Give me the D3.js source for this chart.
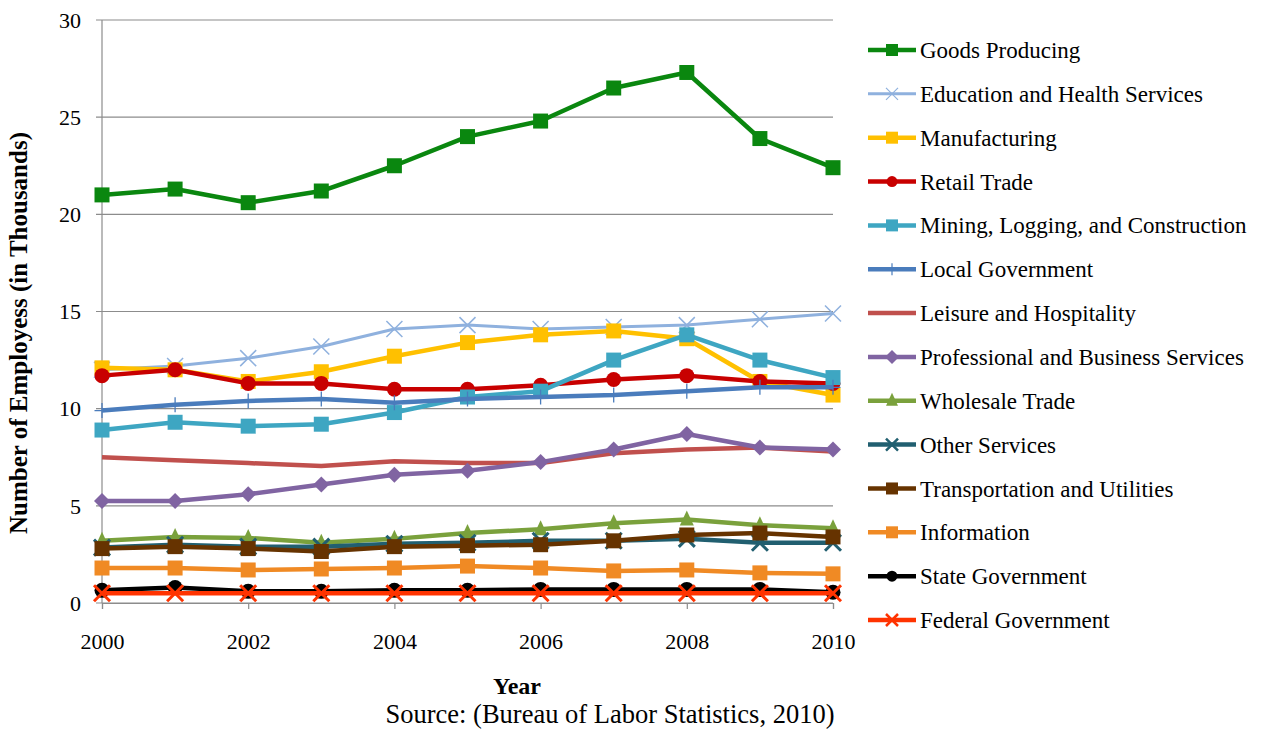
<!DOCTYPE html>
<html>
<head>
<meta charset="utf-8">
<script src="https://cdn.jsdelivr.net/npm/d3@7/dist/d3.min.js"></script>
<style>
  html, body { margin: 0; padding: 0; background: #ffffff; }
  svg { display: block; }
  text { font-family: "Liberation Serif", "Times New Roman", serif; fill: #000; }
</style>
</head>
<body>
<svg id="chart" width="1261" height="731"></svg>
<script>
// ---------- DATA ----------
const years = [2000, 2001, 2002, 2003, 2004, 2005, 2006, 2007, 2008, 2009, 2010];
const yTicks = [0, 5, 10, 15, 20, 25, 30];
const xTicks = [2000, 2002, 2004, 2006, 2008, 2010];

const goodsProducing   = [21.0, 21.3, 20.6, 21.2, 22.5, 24.0, 24.8, 26.5, 27.3, 23.9, 22.4];
const educationHealth  = [12.0, 12.2, 12.6, 13.2, 14.1, 14.3, 14.1, 14.2, 14.3, 14.6, 14.9];
const manufacturing    = [12.1, 12.0, 11.4, 11.9, 12.7, 13.4, 13.8, 14.0, 13.6, 11.4, 10.7];
const retailTrade      = [11.7, 12.0, 11.3, 11.3, 11.0, 11.0, 11.2, 11.5, 11.7, 11.4, 11.3];
const miningLogging    = [8.9, 9.3, 9.1, 9.2, 9.8, 10.6, 10.9, 12.5, 13.8, 12.5, 11.6];
const localGovernment  = [9.9, 10.2, 10.4, 10.5, 10.3, 10.5, 10.6, 10.7, 10.9, 11.1, 11.1];
const leisureHosp      = [7.5, 7.35, 7.2, 7.05, 7.3, 7.2, 7.2, 7.7, 7.9, 8.0, 7.8];
const professionalBiz  = [5.25, 5.25, 5.6, 6.1, 6.6, 6.8, 7.25, 7.9, 8.7, 8.0, 7.9];
const wholesaleTrade   = [3.2, 3.4, 3.35, 3.1, 3.3, 3.6, 3.8, 4.1, 4.3, 4.0, 3.85];
const otherServices    = [2.85, 3.0, 2.9, 2.9, 3.05, 3.1, 3.2, 3.2, 3.3, 3.1, 3.1];
const transportUtil    = [2.8, 2.9, 2.8, 2.65, 2.9, 2.95, 3.0, 3.2, 3.5, 3.6, 3.4];
const information      = [1.8, 1.8, 1.7, 1.75, 1.8, 1.9, 1.8, 1.65, 1.7, 1.55, 1.5];
const stateGovernment  = [0.65, 0.8, 0.6, 0.6, 0.65, 0.65, 0.7, 0.7, 0.7, 0.7, 0.55];
const federalGovernment= [0.5, 0.5, 0.5, 0.5, 0.5, 0.5, 0.5, 0.5, 0.5, 0.5, 0.5];

const seriesNames = [
  "Goods Producing", "Education and Health Services", "Manufacturing", "Retail Trade",
  "Mining, Logging, and Construction", "Local Government", "Leisure and Hospitality",
  "Professional and Business Services", "Wholesale Trade", "Other Services",
  "Transportation and Utilities", "Information", "State Government", "Federal Government"
];
const seriesValues = [
  goodsProducing, educationHealth, manufacturing, retailTrade, miningLogging,
  localGovernment, leisureHosp, professionalBiz, wholesaleTrade, otherServices,
  transportUtil, information, stateGovernment, federalGovernment
];
const seriesColors = [
  "#0a870f", "#8fb1de", "#ffc000", "#c80000", "#3ea6c2", "#4a7cbc", "#c0504d",
  "#8064a2", "#7aa13c", "#215f70", "#663300", "#f08a24", "#000000", "#ff3300"
];
const seriesMarkers = [
  "square", "x", "square", "circle", "square", "plus", "none",
  "diamond", "triangle", "x", "square", "square", "circle", "x"
];
const seriesWidths = [4.5, 3, 4.5, 4.5, 4.5, 4.5, 4.5, 4.5, 4.5, 4.5, 4.5, 4.5, 4.5, 4.5];

// ---------- LAYOUT ----------
const svg = d3.select("#chart");
const plotLeft = 102, plotRight = 833, plotTop = 20, plotBottom = 603;

const x = d3.scaleLinear().domain([2000, 2010]).range([plotLeft, plotRight]);
const y = d3.scaleLinear().domain([0, 30]).range([plotBottom, plotTop]);

// gridlines
const grid = svg.append("g");
grid.selectAll("line.grid").data(yTicks).enter().append("line")
  .attr("x1", plotLeft - 6).attr("x2", plotRight)
  .attr("y1", d => y(d)).attr("y2", d => y(d))
  .attr("stroke", "#8c8c8c").attr("stroke-width", 1.2);

// y axis line
svg.append("line").attr("x1", plotLeft).attr("x2", plotLeft).attr("y1", plotTop).attr("y2", plotBottom)
  .attr("stroke", "#8c8c8c").attr("stroke-width", 1.2);

// y tick labels
svg.append("g").selectAll("text").data(yTicks).enter().append("text")
  .attr("x", plotLeft - 21).attr("y", d => y(d)).attr("dy", "0.35em")
  .attr("text-anchor", "end").style("font-size", "22px")
  .text(d => d);

// x axis
const xAxis = d3.axisBottom(x).tickValues(xTicks).tickFormat(d3.format("d")).tickSize(6).tickPadding(24);
const xg = svg.append("g").attr("transform", `translate(0,${plotBottom})`).call(xAxis);
xg.select(".domain").attr("stroke", "#8c8c8c").attr("stroke-width", 1.2);
xg.selectAll(".tick line").attr("stroke", "#8c8c8c").attr("stroke-width", 1.2);
xg.selectAll(".tick text").style("font-size", "22px")
  .style("font-family", '"Liberation Serif", "Times New Roman", serif').attr("fill", "#000");

// axis titles
svg.append("text").attr("transform", `translate(27,333) rotate(-90)`)
  .attr("text-anchor", "middle").style("font-size", "25px").style("font-weight", "bold")
  .text("Number of Employess (in Thousands)");
svg.append("text").attr("x", 517).attr("y", 694).attr("text-anchor", "middle")
  .style("font-size", "24px").style("font-weight", "bold").text("Year");
svg.append("text").attr("x", 610).attr("y", 723).attr("text-anchor", "middle")
  .style("font-size", "26.5px").text("Source: (Bureau of Labor Statistics, 2010)");

// ---------- MARKERS ----------
function markerPath(type, s) {
  const h = s / 2;
  switch (type) {
    case "square": return `M${-h},${-h}H${h}V${h}H${-h}Z`;
    case "circle": return d3.symbol(d3.symbolCircle, Math.PI * h * h)();
    case "diamond": return `M0,${-h - 1}L${h + 1},0L0,${h + 1}L${-h - 1},0Z`;
    case "triangle": return `M0,${-h - 2}L${h},${h - 1}L${-h},${h - 1}Z`;
    case "x": return `M${-h},${-h}L${h},${h}M${-h},${h}L${h},${-h}`;
    case "plus": return `M0,${-h}V${h}M${-h},0H${h}`;
    default: return "";
  }
}

const line = d3.line().x((d, i) => x(years[i])).y(d => y(d));

const seriesData = seriesNames.map((n, k) => ({
  name: n, values: seriesValues[k], color: seriesColors[k],
  marker: seriesMarkers[k], width: seriesWidths[k]
}));

const plot = svg.append("g");
seriesData.forEach(s => {
  const g = plot.append("g");
  g.append("path").datum(s.values).attr("d", line)
    .attr("fill", "none").attr("stroke", s.color).attr("stroke-width", s.width)
    .attr("stroke-linejoin", "round");
  if (s.marker === "none") return;
  const filled = ["square", "circle", "diamond", "triangle"].includes(s.marker);
  let size = 15;
  if (s.marker === "x") size = 16;
  if (s.marker === "diamond") size = 14;
  if (s.marker === "triangle") size = 14;
  g.selectAll("path.m").data(s.values).enter().append("path")
    .attr("class", "m")
    .attr("transform", (d, i) => `translate(${x(years[i])},${y(d)})`)
    .attr("d", markerPath(s.marker, size))
    .attr("fill", filled ? s.color : "none")
    .attr("stroke", s.color)
    .attr("stroke-width", filled ? 0 : (s.name === "Education and Health Services" ? 1.5 : (s.marker === "plus" ? 1.3 : 3)));
});

// ---------- LEGEND ----------
const legend = svg.append("g");
const legY = d3.scaleLinear().domain([0, seriesNames.length - 1]).range([50, 620]);
seriesData.forEach((s, k) => {
  const g = legend.append("g").attr("transform", `translate(0,${legY(k)})`);
  g.append("line").attr("x1", 868).attr("x2", 916).attr("y1", 0).attr("y2", 0)
    .attr("stroke", s.color).attr("stroke-width", s.width);
  if (s.marker !== "none") {
    const filled = ["square", "circle", "diamond", "triangle"].includes(s.marker);
    g.append("path").attr("transform", "translate(892,0)")
      .attr("d", markerPath(s.marker, s.marker === "circle" ? 11 : 12))
      .attr("fill", filled ? s.color : "none").attr("stroke", s.color)
      .attr("stroke-width", filled ? 0 : (s.name === "Education and Health Services" ? 1.2 : (s.marker === "plus" ? 1.2 : 2.5)));
  }
  g.append("text").attr("x", 920).attr("y", 0).attr("dy", "0.35em")
    .style("font-size", "23px").text(s.name);
});
</script>
</body>
</html>
